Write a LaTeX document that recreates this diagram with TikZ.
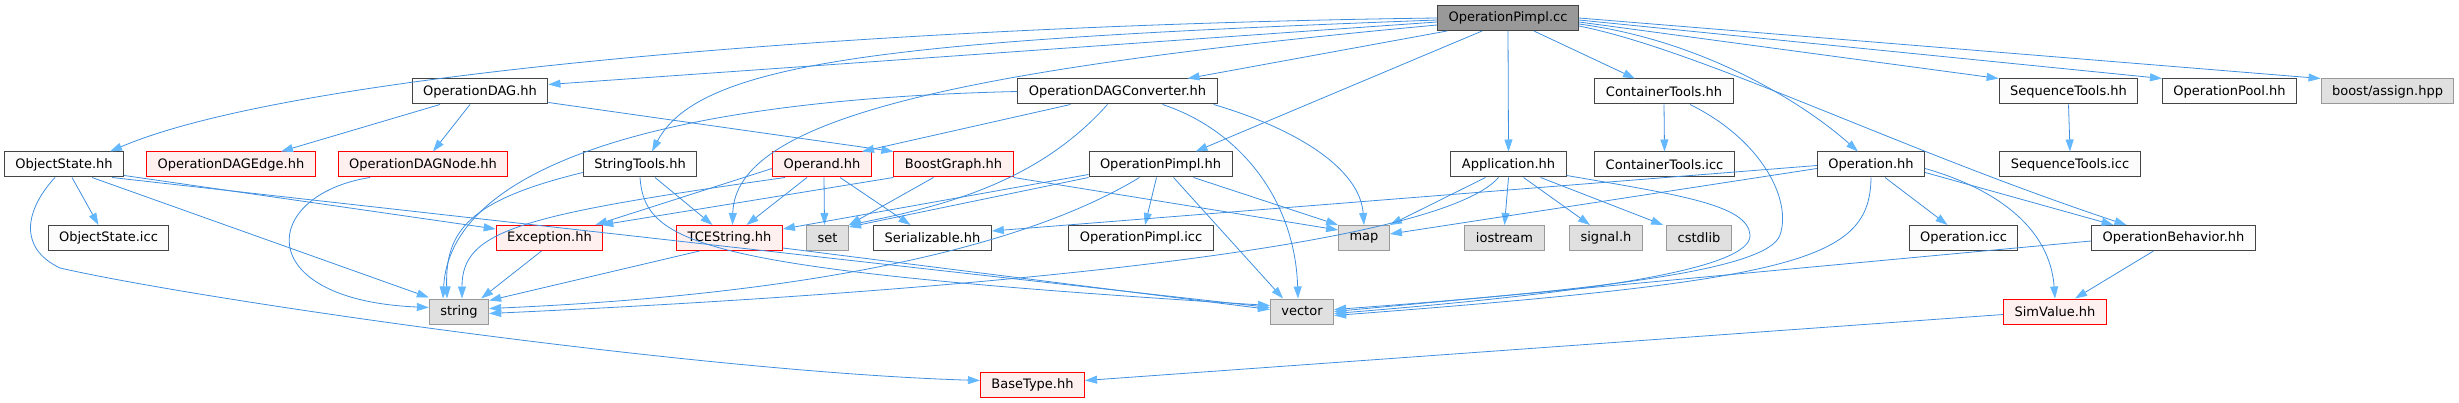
\documentclass[tikz,border=0pt]{standalone}
\usepackage{fontspec}
\setmainfont{DejaVu Sans}
\usetikzlibrary{arrows.meta}
\usepackage{xcolor}
\definecolor{edgeblue}{HTML}{63B8FF}
\definecolor{edgeline}{HTML}{3F8FE0}
\definecolor{fileborder}{HTML}{444444}
\definecolor{filefill}{HTML}{FBFCFB}
\definecolor{redfill}{HTML}{FFF0F0}
\definecolor{sysfill}{HTML}{E0E0E0}
\definecolor{sysborder}{HTML}{999999}

\begin{document}
\begin{tikzpicture}[
    x=1pt, y=-1pt,
    incfile/.style={draw=fileborder, fill=filefill, rectangle, minimum height=25pt, inner xsep=11pt, inner ysep=0pt, line width=1pt, font=\fontsize{13}{15}\selectfont},
    incred/.style={incfile, draw=red, fill=redfill},
    incsys/.style={incfile, draw=sysborder, fill=sysfill},
    incroot/.style={incfile, draw=fileborder, fill=sysborder},
    incarrow/.style={draw=edgeline, line width=0.8pt, -{Triangle[length=12pt,width=8pt,color=edgeblue]}}
]
  \useasboundingbox (0,0) rectangle (2459,403);
  % Nodes
  \node[incroot] (pc) at (1508,18) {OperationPimpl.cc};

  \node[incfile] (dag) at (480,91.5) {OperationDAG.hh};
  \node[incfile] (conv) at (1117.5,91.5) {OperationDAGConverter.hh};
  \node[incfile] (ct) at (1664,91.5) {ContainerTools.hh};
  \node[incfile] (seqt) at (2068.5,91.5) {SequenceTools.hh};
  \node[incfile] (pool) at (2229.5,91.5) {OperationPool.hh};
  \node[incsys] (assign) at (2387.5,91.5) {boost/assign.hpp};

  \node[incfile] (os) at (64,164.5) {ObjectState.hh};
  \node[incred] (dagedge) at (231,164.5) {OperationDAGEdge.hh};
  \node[incred] (dagnode) at (423,164.5) {OperationDAGNode.hh};
  \node[incfile] (st) at (640,164.5) {StringTools.hh};
  \node[incred] (operand) at (822,164.5) {Operand.hh};
  \node[incred] (bg) at (953.5,164.5) {BoostGraph.hh};
  \node[incfile] (pimplhh) at (1160.5,164.5) {OperationPimpl.hh};
  \node[incfile] (app) at (1508.5,164.5) {Application.hh};
  \node[incfile] (cticc) at (1664.5,164.5) {ContainerTools.icc};
  \node[incfile] (op) at (1871,164.5) {Operation.hh};
  \node[incfile] (seqicc) at (2070,164.5) {SequenceTools.icc};

  \node[incfile] (osicc) at (108.5,238) {ObjectState.icc};
  \node[incred] (exc) at (549.5,238) {Exception.hh};
  \node[incred] (tce) at (729.5,238) {TCEString.hh};
  \node[incsys] (set) at (827.5,238) {set};
  \node[incfile] (ser) at (932.5,238) {Serializable.hh};
  \node[incfile] (pimplicc) at (1141,238) {OperationPimpl.icc};
  \node[incsys] (map) at (1364,238) {map};
  \node[incsys] (iostream) at (1504.5,238) {iostream};
  \node[incsys] (signal) at (1606,238) {signal.h};
  \node[incsys] (cstdlib) at (1699,238) {cstdlib};
  \node[incfile] (opicc) at (1963.5,238) {Operation.icc};
  \node[incfile] (beh) at (2173.5,238) {OperationBehavior.hh};

  \node[incsys] (string) at (459,311.5) {string};
  \node[incsys] (vector) at (1302,311.5) {vector};
  \node[incred] (simv) at (2055,311.5) {SimValue.hh};

  \node[incred] (basetype) at (1032.5,384.5) {BaseType.hh};

  % Arrows
  \draw[incarrow] (pc.west) .. controls (900,25) and (300,70) .. ([xshift=46]os.north);
  \draw[incarrow] ([yshift=-4]pc.west) -- ([yshift=7]dag.east);
  \draw[incarrow] ([xshift=10]pc.south west) -- ([xshift=70]conv.north);
  \draw[incarrow] ([yshift=-2]pc.west) .. controls (900,40) and (700,60) .. ([xshift=12]st.north);
  \draw[incarrow] ([yshift=-7]pc.west) .. controls (950,70) and (735,120) .. ([xshift=3]tce.north);
  \draw[incarrow] ([xshift=45]pc.south west) -- ([xshift=35]pimplhh.north);
  \draw[incarrow] (pc.south) -- (app.north);
  \draw[incarrow] ([xshift=-45]pc.south east) -- ([xshift=-29]ct.north);
  \draw[incarrow] ([yshift=-6]pc.east) .. controls (1700,40) and (1800,100) .. ([xshift=-13]op.north);
  \draw[incarrow] ([yshift=-8]pc.east) .. controls (1700,50) and (1900,150) .. ([xshift=-47]beh.north);
  \draw[incarrow] ([yshift=-4]pc.east) -- (seqt.north west);
  \draw[incarrow] ([yshift=-2]pc.east) -- (pool.north west);
  \draw[incarrow] (pc.east) -- (assign.north west);

  \draw[incarrow] ([xshift=-40]dag.south) -- ([xshift=50]dagedge.north);
  \draw[incarrow] ([xshift=-10]dag.south) -- ([xshift=10]dagnode.north);
  \draw[incarrow] ([yshift=2]dag.south east) -- (bg.north west);
  \draw[incarrow] ([xshift=-53]dagnode.south) .. controls (260,195) and (250,300) .. ([yshift=4]string.west);

  \draw[incarrow] ([xshift=8]os.south) -- ([xshift=-10]osicc.north);
  \draw[incarrow] ([xshift=28]os.south) -- ([yshift=14]string.west);
  \draw[incarrow] ([yshift=-11]os.east) -- ([yshift=9]exc.west);
  \draw[incarrow] ([xshift=48]os.south) -- ([yshift=4]vector.west);
  \draw[incarrow] ([xshift=-9]os.south) .. controls (25,210) and (18,248) .. (60,268)
    .. controls (200,300) and (700,372) .. ([yshift=4]basetype.west);

  \draw[incarrow] ([xshift=-47]conv.south) -- ([xshift=40]operand.north);
  \draw[incarrow] ([xshift=-10]conv.south) .. controls (1040,180) and (950,205) .. (set.north east);
  \draw[incarrow] ([xshift=-4]conv.south east) .. controls (1300,130) and (1360,170) .. (map.north);
  \draw[incarrow] ([xshift=45]conv.south) .. controls (1240,130) and (1295,200) .. ([xshift=-4]vector.north);
  \draw[incarrow] (conv.west) .. controls (650,100) and (450,170) .. ([xshift=-16]string.north);

  \draw[incarrow] ([yshift=5]st.south west) .. controls (470,200) and (445,230) .. ([xshift=-12]string.north);
  \draw[incarrow] ([xshift=15]st.south) -- ([xshift=-17]tce.north);
  \draw[incarrow] (st.south) .. controls (645,245) and (700,270) .. ([yshift=6]vector.west);

  \draw[incarrow] ([yshift=-4]operand.west) -- ([xshift=-8]exc.north east);
  \draw[incarrow] ([xshift=-37]operand.south) .. controls (520,215) and (462,230) .. ([xshift=3]string.north);
  \draw[incarrow] ([xshift=-15]operand.south) -- ([xshift=17]tce.north);
  \draw[incarrow] ([xshift=2]operand.south) -- ([xshift=-3]set.north);
  \draw[incarrow] ([xshift=18]operand.south) -- ([xshift=-22]ser.north);

  \draw[incarrow] ([xshift=-20]bg.south) -- (set.north east);
  \draw[incarrow] (bg.south east) -- ([yshift=8]map.west);
  \draw[incarrow] (bg.south west) -- ([xshift=-2]exc.north east);

  \draw[incarrow] ([yshift=-10]pimplhh.west) -- ([yshift=-4]tce.north east);
  \draw[incarrow] (pimplhh.south west) -- ([yshift=-2]set.north east);
  \draw[incarrow] ([xshift=-4]pimplhh.south) -- ([xshift=4]pimplicc.north);
  \draw[incarrow] ([xshift=13]pimplhh.south) -- ([xshift=-19]vector.north);
  \draw[incarrow] ([xshift=33]pimplhh.south) -- (map.north west);
  \draw[incarrow] ([xshift=-21]pimplhh.south) .. controls (1020,250) and (800,295) .. ([yshift=3]string.east);

  \draw[incarrow] ([xshift=-23]app.south) -- (map.north east);
  \draw[incarrow] (app.south) -- (iostream.north);
  \draw[incarrow] ([xshift=15]app.south) -- ([xshift=-16]signal.north);
  \draw[incarrow] ([xshift=32]app.south) -- ([xshift=-3]cstdlib.north west);
  \draw[incarrow] ([xshift=-10]app.south) .. controls (1440,245) and (1000,290) .. ([yshift=-2]string.east);
  \draw[incarrow] ([yshift=2]app.south east) .. controls (1680,195) and (1748,205) .. (1750,235)
    .. controls (1752,268) and (1600,292) .. ([yshift=-2]vector.east);

  \draw[incarrow] (ct.south) -- (cticc.north);
  \draw[incarrow] ([xshift=26]ct.south) .. controls (1762,140) and (1792,200) .. (1780,235)
    .. controls (1768,270) and (1600,290) .. ([yshift=2]vector.east);
  \draw[incarrow] (seqt.south) -- (seqicc.north);

  \draw[incarrow] ([xshift=14]op.south) -- ([xshift=-16]opicc.north);
  \draw[incarrow] ([yshift=-8]op.east) -- ([xshift=-60]beh.north);
  \draw[incarrow] ([yshift=-4]op.east) .. controls (2000,190) and (2050,230) .. (simv.north);
  \draw[incarrow] (op.south) .. controls (1870,260) and (1800,280) .. ([yshift=-4]vector.east);
  \draw[incarrow] ([yshift=-4]op.west) -- ([yshift=4]map.east);
  \draw[incarrow] ([yshift=-1]op.west) -- ([yshift=7]ser.east);

  \draw[incarrow] ([xshift=-8]exc.south) -- ([xshift=-8]string.north east);
  \draw[incarrow] ([xshift=-30]tce.south) -- ([yshift=-2]string.north east);
  \draw[incarrow] ([yshift=3]tce.south east) -- ([yshift=2]vector.west);

  \draw[incarrow] ([xshift=-20]beh.south) -- ([xshift=20]simv.north);
  \draw[incarrow] ([yshift=-3]beh.west) -- (vector.east);
  \draw[incarrow] ([yshift=-3]simv.west) -- ([yshift=4]basetype.east);
\end{tikzpicture}
\end{document}
